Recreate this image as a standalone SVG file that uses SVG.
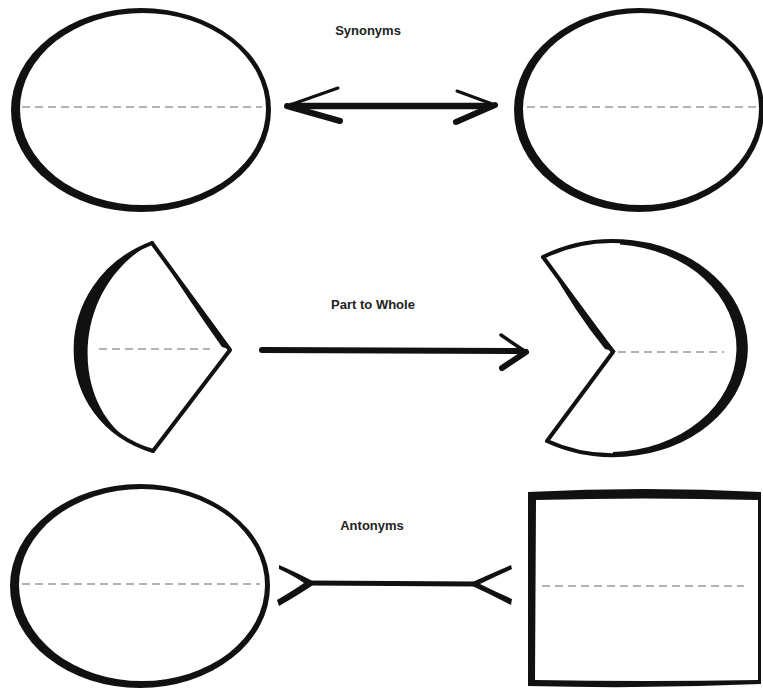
<svg xmlns="http://www.w3.org/2000/svg" width="763" height="688" viewBox="0 0 763 688">
<style>
.ink{fill:none;stroke:#111;stroke-linecap:round;stroke-linejoin:round}
.fillink{fill:#111;stroke:none}
.ring{fill:#111;fill-rule:evenodd;stroke:none}
.dash{fill:none;stroke:#9a9a9a;stroke-width:1.5;stroke-dasharray:8 5}
.lbl{font-family:"Liberation Sans",Arial,sans-serif;font-weight:bold;font-size:13px;fill:#222;text-anchor:middle}
</style>
<rect width="763" height="688" fill="#fff"/>
<g id="syn-left">
<path class="ring" d="M11,110 A130,102 0 1 0 271,110 A130,102 0 1 0 11,110 Z M20,109 A123,96 0 1 0 266,109 A123,96 0 1 0 20,109 Z"/>
<line x1="22" y1="107" x2="262" y2="107" class="dash"/>
</g>
<g id="syn-right">
<path class="ring" d="M514,110 A125,102 0 1 0 764,110 A125,102 0 1 0 514,110 Z M523,109 A118,96 0 1 0 759,109 A118,96 0 1 0 523,109 Z"/>
<line x1="527" y1="107" x2="760" y2="107" class="dash"/>
</g>
<g id="pw-left">
<path class="ink" stroke-width="4" d="M152,243 L230,350 L153,451"/>
<path class="ink" stroke-width="4" d="M152,243 C50,282 50,420 153,451"/>
<path class="fillink" d="M149,240 Q185,285 232,350 L222,347 Q190,302 157,250 Z"/>
<path class="fillink" d="M152,243 C48,282 48,420 153,451 C70,428 62,292 152,243 Z"/>
<line x1="99" y1="349" x2="210" y2="349" class="dash"/>
</g>
<g id="pw-right">
<path class="ink" stroke-width="4" d="M543,257 A133,107 0 1 1 547,441 L613,352 Z"/>
<path class="fillink" d="M620,241.2 A133,107 0 0 1 613,455 L613,452 A127,104 0 0 0 620,244.4 Z"/>
<path class="fillink" d="M540,254 Q575,300 616,352 L605,349 Q575,312 548,263 Z"/>
<line x1="618" y1="352" x2="724" y2="352" class="dash"/>
</g>
<g id="ant-left">
<path class="ring" d="M10,586 A130,102 0 1 0 270,586 A130,102 0 1 0 10,586 Z M19,585 A123,96 0 1 0 265,585 A123,96 0 1 0 19,585 Z"/>
<line x1="22" y1="584" x2="260" y2="584" class="dash"/>
</g>
<g id="ant-right">
<path class="ring" d="M528,492 Q645,486 761,492 L761,684 Q645,689 528,686 Z M536,500 Q645,497 758,500 L758,680 Q645,682 535,680 Z"/>
<line x1="542" y1="586" x2="744" y2="586" class="dash"/>
</g>
<g id="connectors">
<g id="synonyms-arrow">
<line x1="290" y1="106" x2="492" y2="106" stroke="#111" stroke-width="6.5"/>
<path class="ink" stroke-width="3" d="M338,88 L287,106"/>
<path class="ink" stroke-width="6" d="M287,106 L340,121"/>
<path class="ink" stroke-width="3" d="M457,91 L495,105"/>
<path class="ink" stroke-width="6" d="M495,105 L456,122"/>
</g>
<g id="part-whole-arrow">
<line x1="262" y1="350" x2="522" y2="351" stroke="#111" stroke-width="6" stroke-linecap="round"/>
<path class="ink" stroke-width="3.5" d="M501,335 L526,352"/>
<path class="ink" stroke-width="6" d="M526,352 L502,368"/>
</g>
<g id="antonyms-connector">
<line x1="308" y1="583" x2="474" y2="584" stroke="#111" stroke-width="5"/>
<path class="fillink" d="M279,565 Q300,574 316,583 Q300,594 279,606 L277,600 Q294,590 304,583 Q294,576 279,569 Z"/>
<path class="fillink" d="M511,565 Q490,574 468,584 Q490,594 511,605 L512,599 Q496,592 480,584 Q496,576 512,569 Z"/>
</g>
</g>
<text x="368" y="35" class="lbl">Synonyms</text>
<text x="373" y="309" class="lbl">Part to Whole</text>
<text x="372" y="530" class="lbl">Antonyms</text>
</svg>
